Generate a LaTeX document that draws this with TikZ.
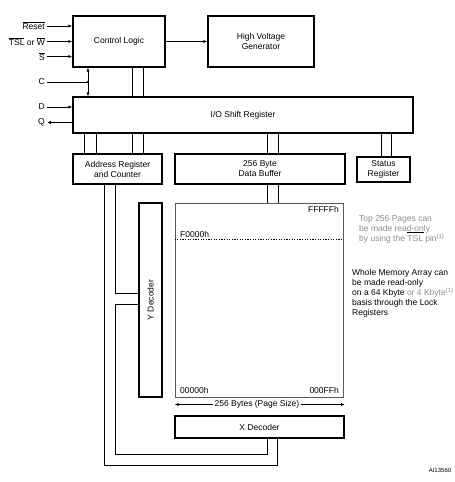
\documentclass[tikz,border=0pt]{standalone}
\usepackage{fontspec}
\setmainfont{Liberation Sans}
\usetikzlibrary{arrows.meta,calc}
\definecolor{txtgray}{RGB}{140,140,140}
\definecolor{memgray}{RGB}{90,90,90}
\newcommand\ovl[1]{{\setbox0=\hbox{#1}\rlap{\rule[\dimexpr\ht0+0.9pt\relax]{\wd0}{0.45pt}}\box0}}
\begin{document}
\begin{tikzpicture}[x=1pt,y=-1pt, font=\fontsize{8.5}{10}\selectfont,
  blk/.style={draw, line width=1.3pt, inner sep=0pt, align=center},
  wire/.style={line width=0.8pt},
  sig/.style={line width=0.8pt, -{Latex[length=4pt,width=3.2pt]}},
  lbl/.style={inner sep=0pt, anchor=east},
  note/.style={inner sep=0pt, anchor=west, align=left},
  memlbl/.style={inner sep=0pt}]
\useasboundingbox (0,0) rectangle (455,482);

% blocks
\node[blk, minimum width=92pt, minimum height=51pt] (ctrl) at (119,41.5) {Control Logic};
\node[blk, minimum width=106pt, minimum height=51pt] (hvg) at (261,41.5) {High Voltage\\Generator};
\node[blk, minimum width=340pt, minimum height=36pt] (io) at (243,115) {I/O Shift Register};
\node[blk, minimum width=89pt, minimum height=30pt] (addr) at (117.5,169) {Address Register\\and Counter};
\node[blk, minimum width=170pt, minimum height=30pt] (buf) at (260,169) {256 Byte\\Data Buffer};
\node[blk, minimum width=53pt, minimum height=25pt] (stat) at (383.5,169.5) {Status\\Register};
\node[draw=memgray, line width=0.8pt, minimum width=168pt, minimum height=194pt, inner sep=0pt] (mem) at (259,300) {};
\node[blk, minimum width=23pt, minimum height=194pt] (ydec) at (150.5,300) {};
\node[rotate=90, inner sep=0pt] (ydtxt) at (ydec.center) {Y Decoder};
\node[blk, minimum width=169pt, minimum height=22pt] (xdec) at (259.5,427) {X Decoder};

% input labels
\node[lbl] (lreset) at (45,26) {\ovl{Reset}};
\node[lbl] (ltsl) at (45,41.5) {\ovl{TSL} or \ovl{W}};
\node[lbl] (ls) at (45,56.5) {\ovl{S}};
\node[lbl] (lc) at (45,82) {C};
\node[lbl] (ld) at (45,107) {D};
\node[lbl] (lq) at (45,122.5) {Q};

\draw[sig] ([xshift=2pt]lreset.east) -- (lreset.east -| ctrl.west);
\draw[sig] ([xshift=2pt]ltsl.east) -- (ltsl.east -| ctrl.west);
\draw[sig] ([xshift=2pt]ls.east) -- (ls.east -| ctrl.west);
\coordinate (cdot) at (88,82);
\draw[wire] ([xshift=2pt]lc.east) -- (cdot);
\fill (cdot) circle (1.4pt);
\draw[wire, {Latex[length=4pt,width=3.2pt]}-{Latex[length=4pt,width=3.2pt]}] (ctrl.south -| cdot) -- (io.north -| cdot);
\draw[sig] ([xshift=2pt]ld.east) -- (ld.east -| io.west);
\draw[sig] (lq.east -| io.west) -- ([xshift=2pt]lq.east);

% ctrl -> hvg
\draw[sig] (ctrl.east) -- (hvg.west);

% buses
\foreach \x in {132,143} \draw[wire] (\x,0 |- ctrl.south) -- (\x,0 |- io.north);
\foreach \x in {84,96,132,143} \draw[wire] (\x,0 |- io.south) -- (\x,0 |- addr.north);
\foreach \x in {267,278} \draw[wire] (\x,0 |- io.south) -- (\x,0 |- buf.north);
\foreach \x in {381,391} \draw[wire] (\x,0 |- io.south) -- (\x,0 |- stat.north);
\foreach \x in {267,278} \draw[wire] (\x,0 |- buf.south) -- (\x,0 |- mem.north);

% address wires
\draw[wire] (104,0 |- addr.south) -- (104,465) -| (277,0 |- xdec.south);
\draw[wire] (115,0 |- addr.south) |- (ydec.west |- 0,293);
\draw[wire] (ydec.west |- 0,304) -- (115,304) -- (115,454) -| (267,0 |- xdec.south);

% memory array labels
\node[memlbl, anchor=east] (ftop) at (339,209) {FFFFFh};
\node[memlbl, anchor=west] (f0) at (180,234) {F0000h};
\draw[line width=0.8pt, dash pattern=on 1.2pt off 1.4pt] (mem.west |- 0,239.5) -- (mem.east |- 0,239.5);
\node[memlbl, anchor=west] (z0) at (180,390) {00000h};
\node[memlbl, anchor=east] (zff) at (339,390) {000FFh};

% page size arrow
\node[fill=white, inner sep=1.5pt] (psize) at (257,404.5) {256 Bytes (Page Size)};
\draw[sig] (psize.west) -- (mem.west |- psize.west);
\draw[sig] (psize.east) -- (345,0 |- psize.east);

% notes
\node[note, text=txtgray] (n1) at (359,229) {Top 256 Pages can\\be made rea{\color{black}\underline{{\color{txtgray}d-on}}}ly\\by using the TSL pin\textsuperscript{(1)}};
\node[note] (n2) at (352,293) {Whole Memory Array can\\be made read-only\\on a 64 Kbyte {\color{txtgray}or 4 Kbyte\textsuperscript{(1)}}\\basis through the Lock\\Registers};
\node[inner sep=0pt, font=\fontsize{6}{7}\selectfont] (ai) at (440,470) {AI13560};
\end{tikzpicture}
\end{document}
